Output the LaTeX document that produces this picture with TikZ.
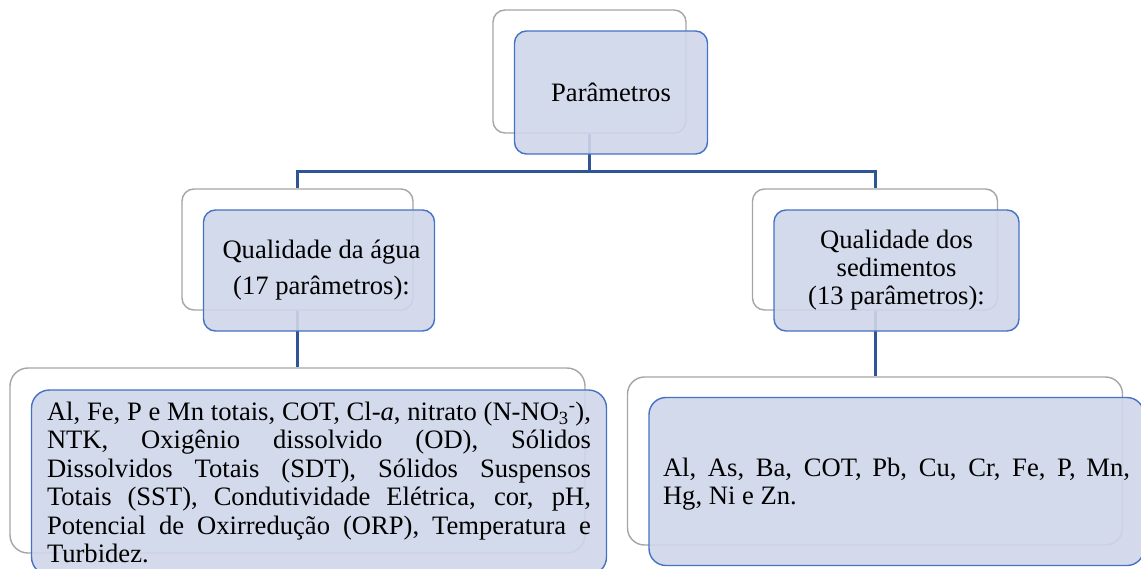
\documentclass[tikz,border=0pt]{standalone}
\usepackage{fontspec}
\setmainfont{Liberation Serif}
\definecolor{frameline}{RGB}{165,165,165}
\definecolor{accentline}{RGB}{68,114,196}
\definecolor{accentfill}{RGB}{207,214,233}
\definecolor{linkline}{RGB}{47,85,151}
\tikzset{
  backbox/.style={draw=frameline, line width=1.4pt, fill=white, inner sep=0pt},
  frontbox/.style={draw=accentline, line width=1.4pt, fill=accentfill,
    fill opacity=0.9, text opacity=1, draw opacity=1, inner sep=0pt,
    font=\fontsize{26.6}{28}\selectfont, align=center},
  link/.style={draw=linkline, line width=3pt},
}
\begin{document}
\begin{tikzpicture}[x=1pt,y=-1pt]
\useasboundingbox (0,0) rectangle (1141,568);
\clip (0,0) rectangle (1141,568);

% back frames of the hierarchy
\node[backbox, rounded corners=12pt, minimum width=193pt, minimum height=123pt] (g0) at (589.5,71.5) {};
\node[backbox, rounded corners=12pt, minimum width=231pt, minimum height=121pt] (g1) at (297.5,249.5) {};
\node[backbox, rounded corners=12pt, minimum width=245pt, minimum height=121pt] (g2) at (875,249.5) {};
\node[backbox, rounded corners=18pt, minimum width=575pt, minimum height=185pt] (g3) at (297.5,460.5) {};
\node[backbox, rounded corners=17pt, minimum width=495pt, minimum height=168pt] (g4) at (875,461) {};

% tree connectors
\coordinate (bus) at (0,171);
\draw[link] (g0.south) -- (g0.south |- bus);
\draw[link] (g1.north) |- (g0.south |- bus) -| (g2.north);
\draw[link] (g1.south) -- (g3.north);
\draw[link] (g2.south) -- (g4.north);

% front boxes with the labels
\node[frontbox, rounded corners=12pt, minimum width=193pt, minimum height=123pt] (b0) at (611,92.5) {Parâmetros};
\node[frontbox, rounded corners=12pt, minimum width=231pt, minimum height=121pt,
  font=\fontsize{26.6}{36}\selectfont] (b1) at (319,270.5) {\hspace*{5pt}Qualidade da água\\\hspace*{5pt}(17 parâmetros):};
\node[frontbox, rounded corners=12pt, minimum width=245pt, minimum height=121pt] (b2) at (896.5,270.5) {\raisebox{-2pt}{Qualidade dos}\\\raisebox{-2pt}{sedimentos}\\\raisebox{-2pt}{(13 parâmetros):}};
\node[frontbox, rounded corners=18pt, minimum width=575pt, minimum height=185pt, align=left,
  font=\fontsize{26.6}{28.5}\selectfont] (b3) at (319,482.5) {%
\makebox[544pt][s]{Al, Fe, P e Mn totais, COT, Cl-\textit{a}, nitrato (N-NO\textsubscript{3}\textsuperscript{-}),}\\
\makebox[544pt][s]{NTK, Oxigênio dissolvido (OD), Sólidos}\\
\makebox[544pt][s]{Dissolvidos Totais (SDT), Sólidos Suspensos}\\
\makebox[544pt][s]{Totais (SST), Condutividade Elétrica, cor, pH,}\\
\makebox[544pt][s]{Potencial de Oxirredução (ORP), Temperatura e}\\
Turbidez.};
\node[frontbox, rounded corners=17pt, minimum width=495pt, minimum height=168pt] (b4) at (896.5,481.5) {};
\node[font=\fontsize{26.6}{28}\selectfont, align=left, inner sep=0pt] (t4) at ([yshift=-3pt]b4.center) {%
\makebox[467pt][s]{Al, As, Ba, COT, Pb, Cu, Cr, Fe, P, Mn,}\\
Hg, Ni e Zn.};
\end{tikzpicture}
\end{document}
